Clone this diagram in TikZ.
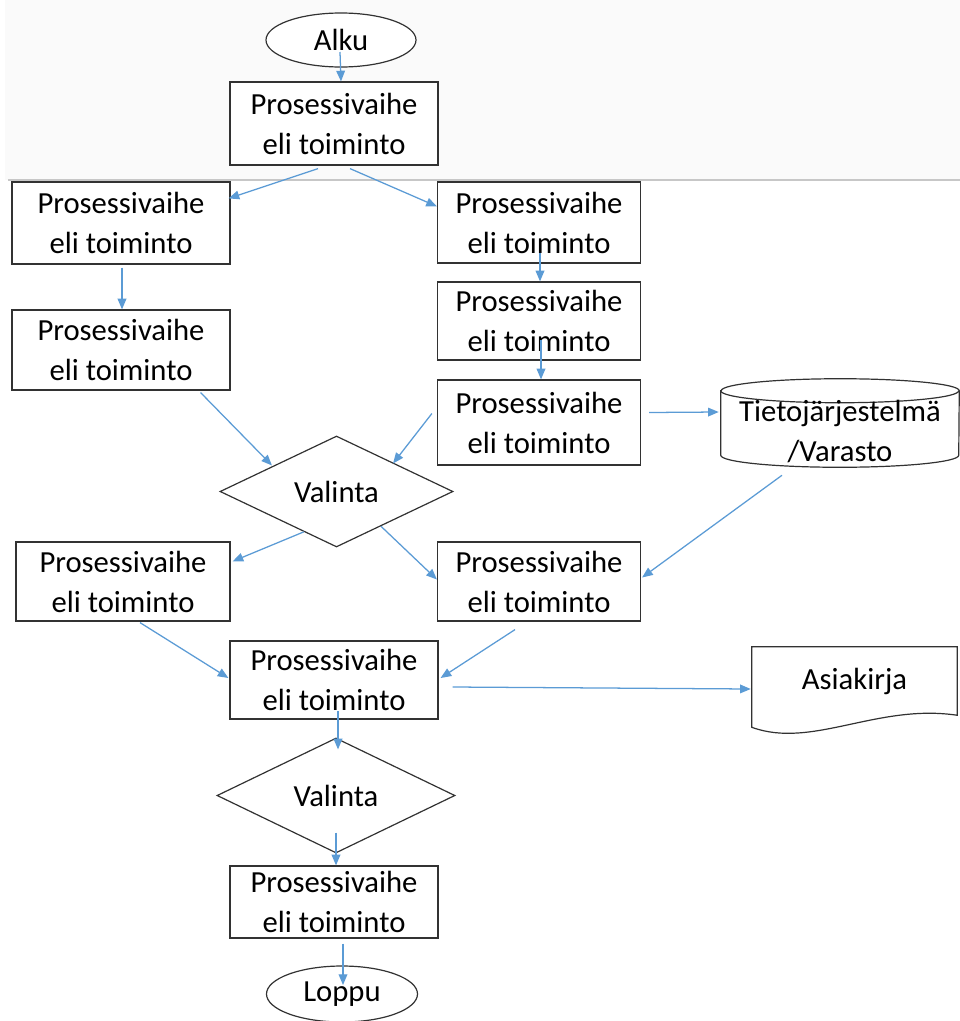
\documentclass[tikz,border=0pt]{standalone}
\usepackage{fontspec}
\setmainfont{Carlito}
\usetikzlibrary{shapes.geometric,arrows.meta,calc}

\definecolor{flowblue}{RGB}{91,155,213}
\definecolor{edgegray}{RGB}{50,50,50}

% one drawing unit
\newdimen\px
\px=0.75pt

\tikzset{
  shapeline/.style={draw=edgegray, line width=0.9pt, fill=white},
  txt/.style={font=\fontsize{23pt}{30pt}\selectfont, align=center, text=black},
  procbox/.style={shapeline, txt, rectangle, inner sep=0pt},
  terminal/.style={shapeline, txt, ellipse, inner sep=0pt},
  decision/.style={shapeline, txt, diamond, inner sep=0pt},
  flow/.style={draw=flowblue, line width=0.95pt, -{Triangle[length=8pt,width=6.5pt]}},
}

\begin{document}
\begin{tikzpicture}[x=0.75pt,y=-0.75pt]
\useasboundingbox (0,0) rectangle (960,1021);
\clip (0,0) rectangle (960,1021);

% light header band
\fill[black!2] (5,0) rectangle (960,180);
\draw[black!22, line width=1pt] (8,180) -- (960,180);

% start / end
\node[terminal, minimum width=150\px, minimum height=54\px] (alku) at (341,40) {Alku};
\node[terminal, minimum width=151\px, minimum height=56\px] (loppu) at (342,994) {Loppu};

% process steps
\node[procbox, minimum width=208\px, minimum height=83\px] (p1) at (334,123.5) {Prosessivaihe\\eli toiminto};
\node[procbox, minimum width=218\px, minimum height=82\px] (pa) at (121,223) {Prosessivaihe\\eli toiminto};
\node[procbox, minimum width=203\px, minimum height=81\px] (pb) at (539,222.5) {Prosessivaihe\\eli toiminto};
\node[procbox, minimum width=203\px, minimum height=78\px] (pc) at (539,321) {Prosessivaihe\\eli toiminto};
\node[procbox, minimum width=218\px, minimum height=80\px] (pd) at (121,350) {Prosessivaihe\\eli toiminto};
\node[procbox, minimum width=203\px, minimum height=85\px] (pe) at (539,422.5) {Prosessivaihe\\eli toiminto};
\node[procbox, minimum width=214\px, minimum height=79\px] (pf) at (123,581.5) {Prosessivaihe\\eli toiminto};
\node[procbox, minimum width=203\px, minimum height=79\px] (pg) at (539,581.5) {Prosessivaihe\\eli toiminto};
\node[procbox, minimum width=208\px, minimum height=78\px] (ph) at (334,680) {Prosessivaihe\\eli toiminto};
\node[procbox, minimum width=208\px, minimum height=72\px] (pi) at (334,902) {Prosessivaihe\\eli toiminto};

% decisions
\node[decision, minimum width=233\px, minimum height=111\px] (v1) at (336.5,491.5) {Valinta};
\node[decision, minimum width=238\px, minimum height=115\px] (v2) at (336,795.5) {Valinta};

% data store (cylinder)
\node[minimum width=238\px, minimum height=88\px, inner sep=0pt] (db) at (840,423) {};
\draw[shapeline]
  ($(db.north west)+(0,12)$) -- ($(db.south west)+(0,-12)$)
  arc[start angle=180, end angle=360, x radius=119\px, y radius=12\px]
  -- ($(db.north east)+(0,12)$)
  arc[start angle=0, end angle=180, x radius=119\px, y radius=12\px] -- cycle;
\draw[draw=edgegray, line width=0.9pt]
  ($(db.north west)+(0,12)$) arc[start angle=180, end angle=360, x radius=119\px, y radius=12\px];
\node[txt, anchor=center] (dbtext) at ($(db.center)+(0,8)$) {Tietojärjestelmä\\/Varasto};

% document
\node[minimum width=205\px, minimum height=82\px, inner sep=0pt] (doc) at (854.5,688) {};
\draw[shapeline]
  (doc.north west) -- (doc.north east) -- ($(doc.south east)+(0,-14)$)
  .. controls ($(doc.south east)+(-80,-26)$) and ($(doc.south west)+(60,20)$) .. ($(doc.south west)+(0,-2)$)
  -- cycle;
\node[txt] (doctext) at ($(doc.center)+(0,-7)$) {Asiakirja};

% connectors
\draw[flow] ($(alku.center)+(-1,12)$) -- (p1.north -| alku.center);
\draw[flow] ($(p1.south)+(-16,3)$) -- ($(pa.north east)+(-2,17)$);
\draw[flow] ($(p1.south)+(16,3)$) -- ($(pb.north west)+(0,25)$);
\draw[flow] ($(pb.center)+(1,30)$) -- ($(pc.north)+(1,0)$);
\draw[flow] ($(pa.south)+(1,3)$) -- ($(pd.north)+(1,0)$);
\draw[flow] ($(pc.center)+(2,19)$) -- ($(pe.north)+(2,0)$);
\draw[flow] ($(pd.south east)+(-30,2)$) -- ($(v1.north west)+(-6,2)$);
\draw[flow] ($(pe.west)+(-5,-9)$) -- ($(v1.north east)+(-2,0)$);
\draw[flow] ($(pe.east)+(8,-10)$) -- ($(db.west)+(-2,-11)$);
\draw[flow] ($(v1.south)!0.28!(v1.west)$) -- ($(pf.north east)+(2,20)$);
\draw[flow] ($(v1.south)!0.38!(v1.east)$) -- ($(pg.west)+(0,-2)$);
\draw[flow] ($(db.south)+(-58,8)$) -- ($(pg.east)+(1,-4)$);
\draw[flow] ($(pf.south)+(17,1)$) -- ($(ph.west)+(-1,-2)$);
\draw[flow] ($(pg.south)+(-24,8)$) -- ($(ph.east)+(2,-2)$);
\draw[flow] ($(ph.east)+(14,7)$) -- ($(doc.west)+(-1,1)$);
\draw[flow] ($(ph.center)+(4,31)$) -- ($(v2.north)+(2,12)$);
\draw[flow] ($(v2.center)+(0,37)$) -- (pi.north -| v2.center);
\draw[flow] ($(pi.south)+(9,5)$) -- ($(loppu.center)+(1,-9)$);
\end{tikzpicture}
\end{document}
